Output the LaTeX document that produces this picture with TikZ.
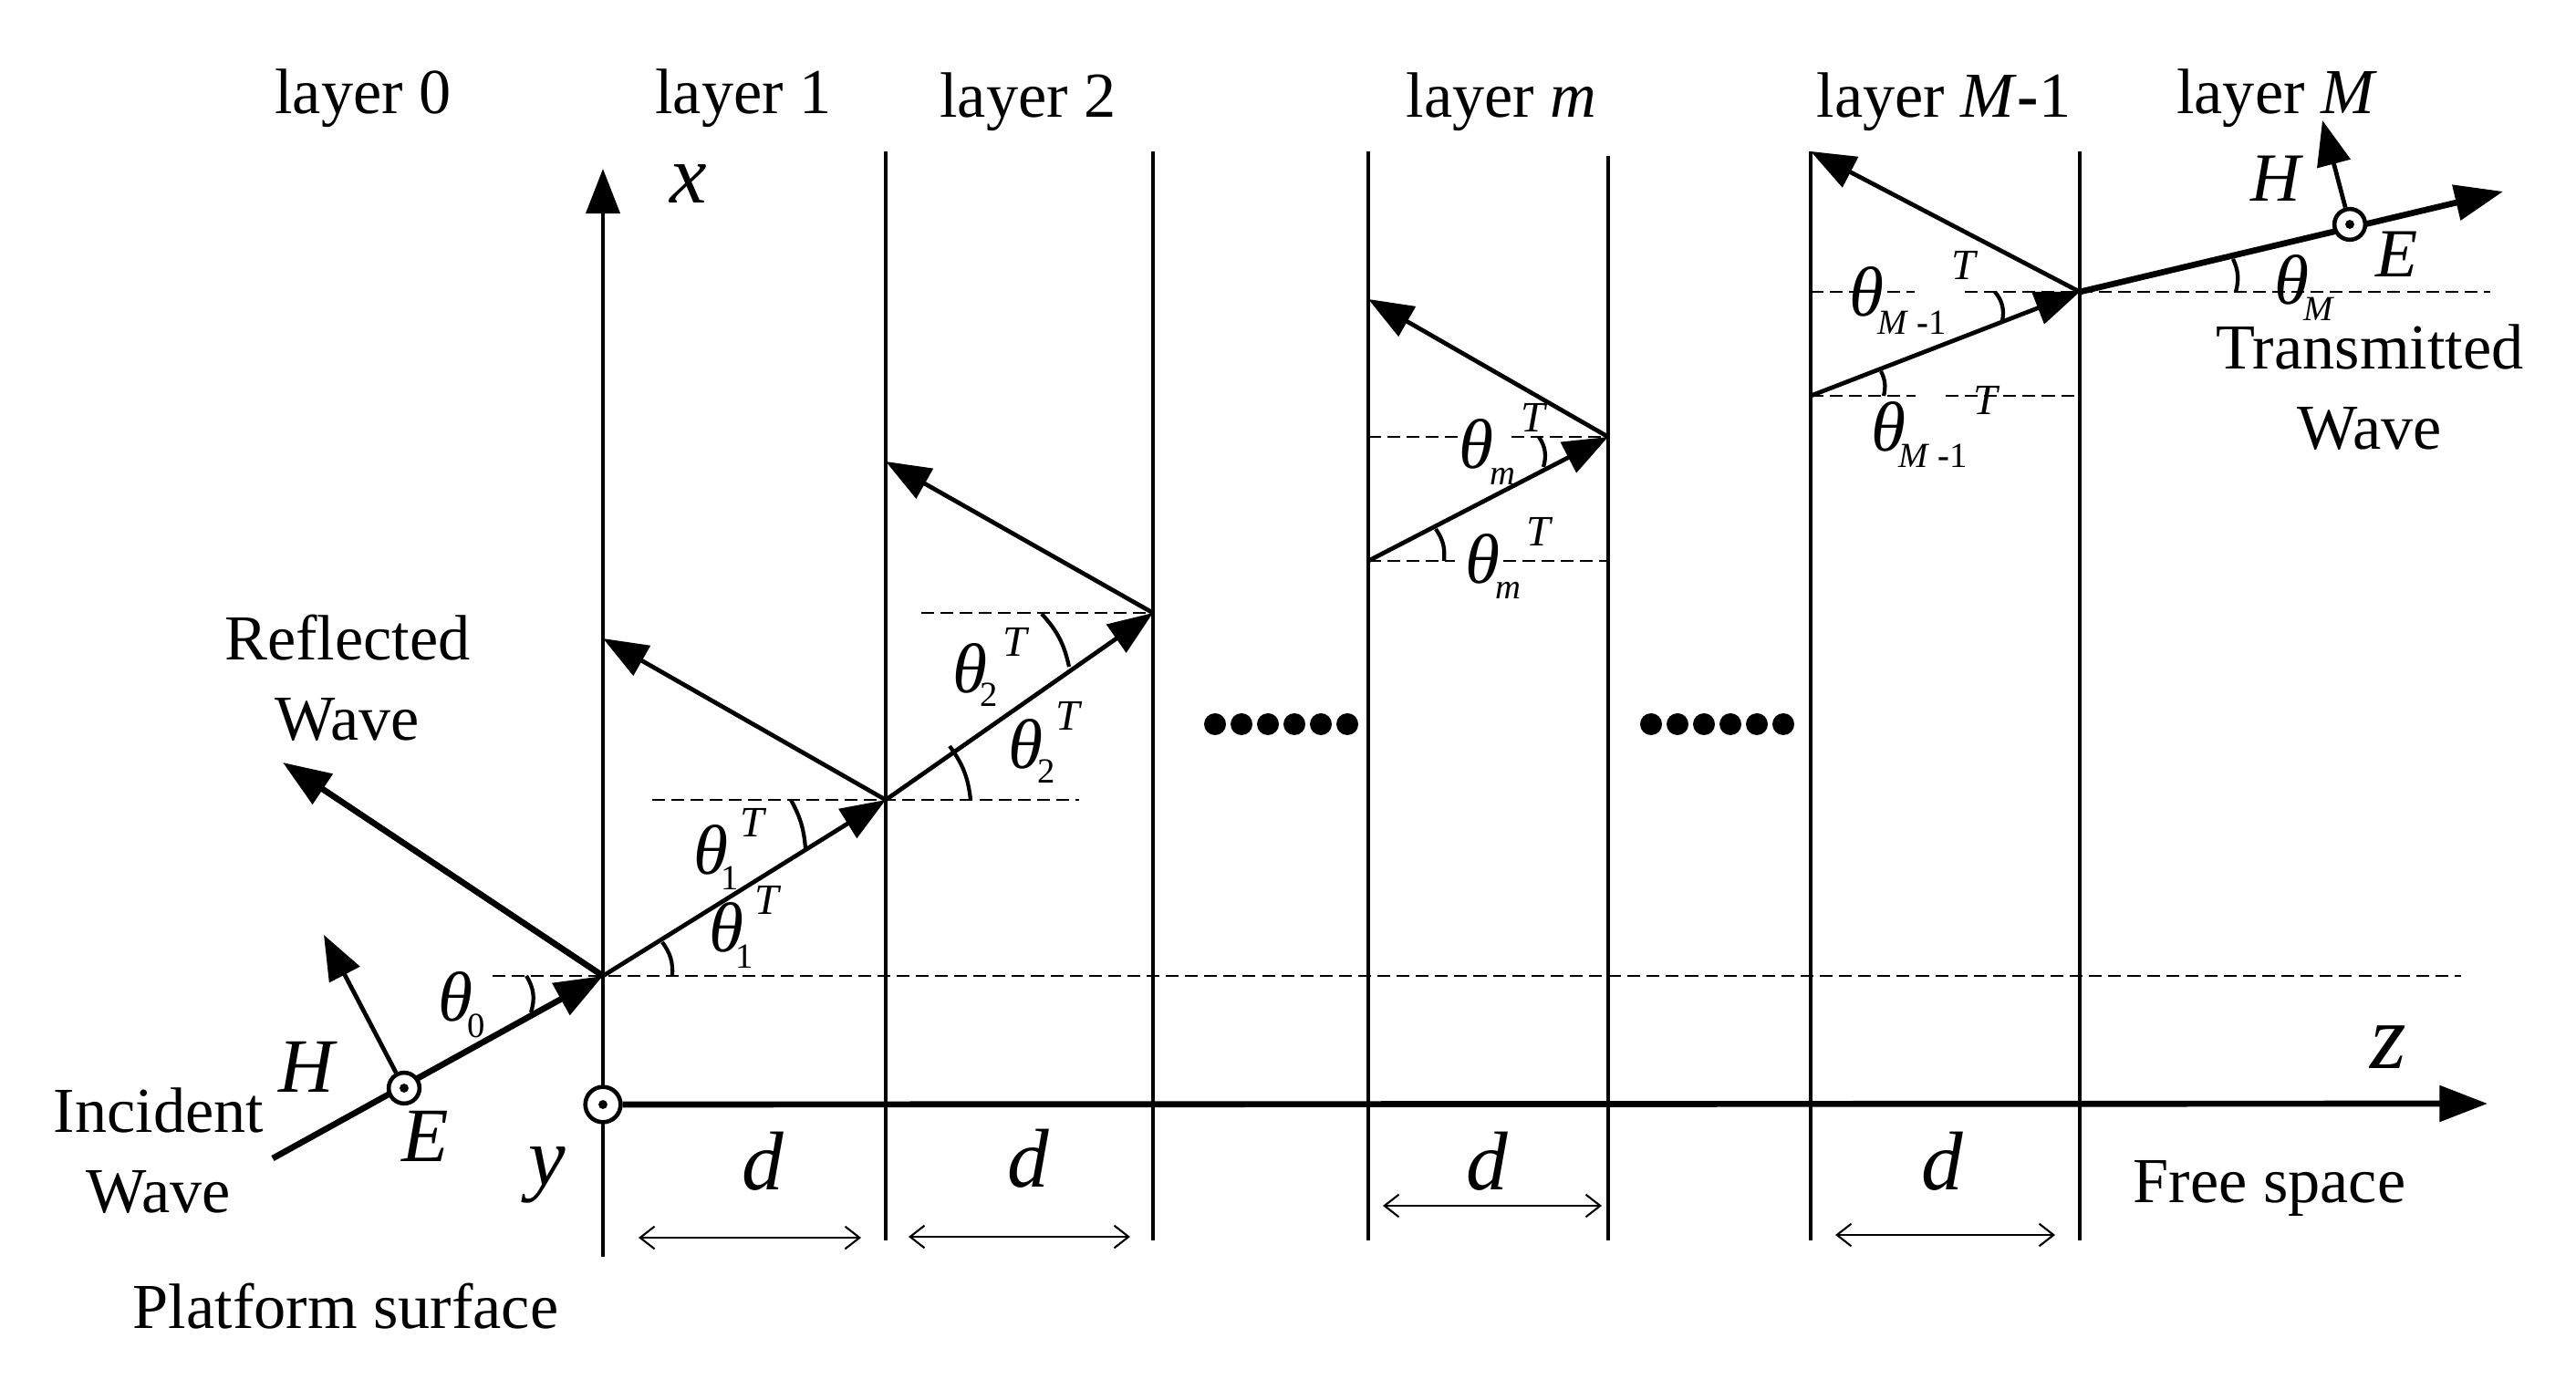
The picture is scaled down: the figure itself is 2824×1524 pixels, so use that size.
\documentclass[tikz,border=0pt]{standalone}
\usepackage{fontspec}
\setmainfont{Liberation Serif}
\usepackage{tikz}
\usetikzlibrary{arrows.meta,positioning}
\tikzset{
  wall/.style={line width=1.3pt},
  ray/.style={line width=1.35pt,-{Triangle[length=14pt,width=10.5pt]}},
  bigray/.style={line width=1.9pt,-{Triangle[length=15pt,width=11pt]}},
  guide/.style={line width=0.65pt,dash pattern=on 4pt off 2pt},
  anglearc/.style={line width=1.2pt},
  spacing/.style={line width=0.6pt,{Straight Barb[length=4.5pt,width=7pt]}-{Straight Barb[length=4.5pt,width=7pt]}},
  ringmark/.style={circle,draw,fill=white,inner sep=0pt,line width=1.3pt,minimum size=#1,
    path picture={\fill[black] (path picture bounding box.center) circle (1.4pt);}},
  caption/.style={inner sep=0pt,font=\fontsize{20}{25}\selectfont,align=center},
  symb/.style={inner sep=0pt,font=\fontsize{24}{28}\selectfont\itshape},
  smallsymb/.style={inner sep=0pt,font=\fontsize{21.5}{25}\selectfont\itshape},
  bigsymb/.style={inner sep=0pt,font=\fontsize{26}{30}\selectfont\itshape},
  thetalabel/.style={inner sep=0pt,font=\fontsize{22}{25}\selectfont\itshape},
  sublabel/.style={inner sep=0pt,font=\fontsize{11}{13}\selectfont},
  suplabel/.style={inner sep=0pt,font=\fontsize{13.5}{16}\selectfont\itshape},
}
\begin{document}
\begin{tikzpicture}[x=0.1mm,y=-0.1mm]
\useasboundingbox (0,0) rectangle (2824,1524);
% layers
\foreach \wname/\xpos/\ytop in {a/971/166,b/1264/166,c/1500/166,d/1763/171,e/1985/166,f/2280/166}{
  \coordinate (top\wname) at (\xpos,\ytop);
  \coordinate (bot\wname) at (\xpos,1360);
  \draw[wall] (top\wname) -- (bot\wname);
}
\coordinate (surfbot) at (661,1378);
\coordinate (surftop) at (661,185);
\draw[ray] (surfbot) -- (surftop);
\node (layer0) at (398,108) [caption] {layer 0};
\node (layer1) at (815,108) [caption] {layer 1};
\node (layer2) at (1127,112) [caption] {layer 2};
\node (layerm) at (1646,112) [caption] {layer \textit{m}};
\node (layerm1) at (2131,112) [caption] {layer \textit{M}\textbf{-}1};
\node (layerM) at (2496,108) [caption] {layer \textit{M}};
% guide lines
\coordinate (orig) at (661,1070);
\coordinate (g0a) at (540,1070);
\coordinate (g0b) at (2698,1070);
\coordinate (g1a) at (715,877);
\coordinate (g1b) at (1183,877);
\coordinate (g2a) at (1010,672);
\coordinate (p2) at (1264,672);
\draw[guide] (g0a) -- (g0b);
\draw[guide] (g1a) -- (g1b);
\draw[guide] (g2a) -- (p2);
\coordinate (g3a) at (1500,479);
\coordinate (g3b) at (1607,479);
\coordinate (g3c) at (1657,479);
\coordinate (p3) at (1763,479);
\coordinate (s3) at (1500,615);
\coordinate (g4b) at (1595,615);
\coordinate (g4c) at (1648,615);
\coordinate (g4d) at (1763,615);
\draw[guide] (g3a) -- (g3b);
\draw[guide] (g3c) -- (p3);
\draw[guide] (s3) -- (g4b);
\draw[guide] (g4c) -- (g4d);
\coordinate (s5) at (1985,434);
\coordinate (g5b) at (2100,434);
\coordinate (g5c) at (2133,434);
\coordinate (g5d) at (2280,434);
\coordinate (g6a) at (1985,320);
\coordinate (g6b) at (2099,320);
\coordinate (g6c) at (2154,320);
\coordinate (p5) at (2280,320);
\coordinate (g7b) at (2730,320);
\draw[guide] (s5) -- (g5b);
\draw[guide] (g5c) -- (g5d);
\draw[guide] (g6a) -- (g6b);
\draw[guide] (g6c) -- (p5);
\draw[guide] (p5) -- (g7b);
% rays
\coordinate (incstart) at (299,1270);
\coordinate (reftip) at (310,836);
\coordinate (p1) at (971,877);
\coordinate (r1) at (661,700);
\coordinate (r2) at (971,506);
\coordinate (r3) at (1500,328);
\coordinate (r5) at (1985,166);
\coordinate (trantip) at (2744,210);
\draw[bigray] (incstart) -- (orig);
\draw[bigray] (orig) -- (reftip);
\draw[ray] (orig) -- (p1);
\draw[ray] (p1) -- (r1);
\draw[ray] (p1) -- (p2);
\draw[ray] (p2) -- (r2);
\draw[ray] (s3) -- (p3);
\draw[ray] (p3) -- (r3);
\draw[ray] (s5) -- (p5);
\draw[ray] (p5) -- (r5);
\draw[bigray] (p5) -- (trantip);
% axis and field marks
\coordinate (ztip) at (2727,1210);
\node[ringmark=11pt] (yring) at (661,1211) {};
\draw[bigray] (yring) -- (ztip);
\node[ringmark=9.6pt] (ringinc) at (443,1193) {};
\node[ringmark=9.6pt] (ringtr) at (2576,246) {};
\coordinate (hinc) at (355,1025);
\coordinate (htr) at (2546,132);
\draw[ray] (ringinc) -- (hinc);
\draw[ray] (ringtr) -- (htr);
% angle marks
\coordinate (a0a) at (577,1070);
\coordinate (a0b) at (582,1110);
\coordinate (a1a) at (737,1070);
\coordinate (a1b) at (726,1033);
\coordinate (a2a) at (867,877);
\coordinate (a2b) at (883,930);
\coordinate (a3a) at (1064,877);
\coordinate (a3b) at (1041,818);
\coordinate (a4a) at (1142,673);
\coordinate (a4b) at (1172,731);
\coordinate (a5a) at (1687,479);
\coordinate (a5b) at (1692,512);
\coordinate (a6a) at (1583,615);
\coordinate (a6b) at (1574,580);
\coordinate (a7a) at (2187,320);
\coordinate (a7b) at (2195,352);
\coordinate (a8a) at (2065,434);
\coordinate (a8b) at (2062,407);
\coordinate (a9a) at (2451,320);
\coordinate (a9b) at (2448,284);
\draw[anglearc] (a0a) to[bend left=25] (a0b);
\draw[anglearc] (a1a) to[bend right=20] (a1b);
\draw[anglearc] (a2a) to[bend left=12] (a2b);
\draw[anglearc] (a3a) to[bend right=15] (a3b);
\draw[anglearc] (a4a) to[bend left=15] (a4b);
\draw[anglearc] (a5a) to[bend left=25] (a5b);
\draw[anglearc] (a6a) to[bend right=20] (a6b);
\draw[anglearc] (a7a) to[bend left=25] (a7b);
\draw[anglearc] (a8a) to[bend right=20] (a8b);
\draw[anglearc] (a9a) to[bend right=20] (a9b);
% theta labels
\node[thetalabel] (th0) at (499,1093) {θ};
\node[sublabel] (th0s) at (522,1125) {0};
\node[thetalabel] (th1u) at (779,932) {θ};
\node[sublabel] (th1us) at (800,963) {1};
\node[suplabel] (th1ut) at (825,902) {T};
\node[thetalabel] (th1l) at (796,1017) {θ};
\node[sublabel] (th1ls) at (816,1049) {1};
\node[suplabel] (th1lt) at (841,987) {T};
\node[thetalabel] (th2u) at (1063,733) {θ};
\node[sublabel] (th2us) at (1084,762) {2};
\node[suplabel] (th2ut) at (1113,704) {T};
\node[thetalabel] (th2l) at (1124,816) {θ};
\node[sublabel] (th2ls) at (1147,846) {2};
\node[suplabel] (th2lt) at (1171,785) {T};
\node[thetalabel] (thmu) at (1618,487) {θ};
\node[sublabel] (thmus) at (1647,522) {\textit{m}};
\node[suplabel] (thmut) at (1681,458) {T};
\node[thetalabel] (thml) at (1625,613) {θ};
\node[sublabel] (thmls) at (1653,647) {\textit{m}};
\node[suplabel] (thmlt) at (1687,583) {T};
\node[thetalabel] (thnu) at (2046,320) {θ};
\node[sublabel] (thnus) at (2096,354) {\textit{M} \textbf{-}1};
\node[suplabel] (thnut) at (2153,291) {T};
\node[thetalabel] (thnl) at (2070,468) {θ};
\node[sublabel] (thnls) at (2119,500) {\textit{M} \textbf{-}1};
\node[suplabel] (thnlt) at (2177,439) {T};
\node[thetalabel] (thM) at (2512,307) {θ};
\node[sublabel] (thMs) at (2542,339) {\textit{M}};
% symbols
\node[bigsymb] (xlabel) at (755,202) {x};
\node[bigsymb] (ylabel) at (600,1288) {y};
\node[bigsymb,font=\fontsize{29}{32}\selectfont\itshape] (zlabel) at (2618,1148) {z};
\node[symb] (Hinc) at (336,1170) {H};
\node[symb] (Einc) at (466,1246) {E};
\node[smallsymb] (Htr) at (2495,196) {H};
\node[smallsymb] (Etr) at (2628,279) {E};
% spacing
\foreach \dname/\xa/\xb/\ya/\xd/\yd in {p/700/944/1357/836/1273,q/996/1239/1356/1127/1270,r/1516/1756/1322/1630/1273,s/2012/2253/1354/2129/1273}{
  \coordinate (\dname l) at (\xa,\ya);
  \coordinate (\dname r) at (\xb,\ya);
  \draw[spacing] (\dname l) -- (\dname r);
  \node[bigsymb] (d\dname) at (\xd,\yd) {d};
}
% dots
\foreach \i in {0,...,5}{
  \fill ({1332+29*\i},794) circle (12);
  \fill ({1810+29*\i},794) circle (12);
}
% captions
\node[caption] (reflected) at (381,743) {Reflected\\Wave};
\node[caption] (incident) at (174,1262) {Incident\\Wave};
\node[caption] (platform) at (379,1432) {Platform surface};
\node[caption] (transmitted) at (2598,425) {Transmitted\\Wave};
\node[caption] (freespace) at (2488,1303) {Free space};
\end{tikzpicture}
\end{document}
